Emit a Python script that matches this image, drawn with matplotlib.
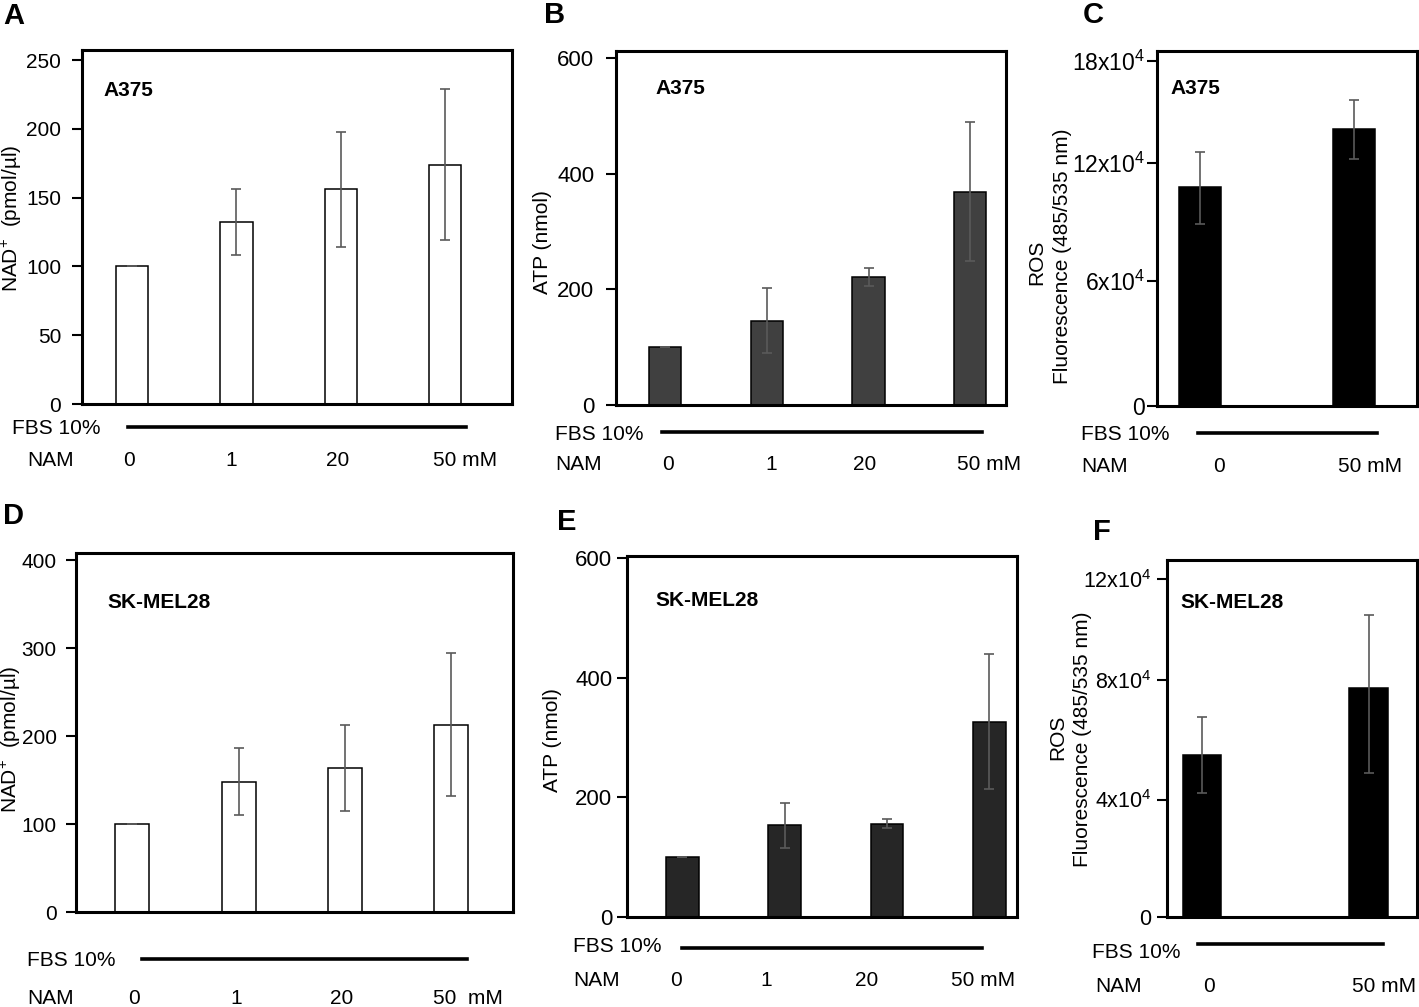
import numpy as np
import matplotlib
matplotlib.use("Agg")
import matplotlib.pyplot as plt
from matplotlib.lines import Line2D

plt.rcParams["font.family"] = ["Liberation Sans", "DejaVu Sans"]
plt.rcParams["mathtext.fontset"] = "custom"
plt.rcParams["mathtext.rm"] = "Liberation Sans"
plt.rcParams["font.size"] = 15

# --- data ---
nam_4 = ["0", "1", "20", "50 mM"]
nam_2 = ["0", "50 mM"]

nad_a375 = [100, 132, 156, 174]
nad_a375_err = [0, 24, 42, 55]
atp_a375 = [100, 146, 221, 369]
atp_a375_err = [0, 56, 16, 120]
ros_a375 = [10.8e4, 14.0e4]
ros_a375_err = [1.87e4, 1.74e4]

nad_skmel = [100, 148, 164, 213]
nad_skmel_err = [0, 38, 49, 81]
atp_skmel = [100, 153, 156, 326]
atp_skmel_err = [0, 38, 7.5, 113]
ros_skmel = [5.5e4, 7.75e4]
ros_skmel_err = [1.28e4, 2.85e4]

nad_ticks_a = [0, 50, 100, 150, 200, 250]
nad_ticks_d = [0, 100, 200, 300, 400]
atp_ticks = [0, 200, 400, 600]
ros_ticks_c = [0, 6e4, 12e4, 18e4]
ros_labels_c = ["0", r"$\mathregular{6x10^{4}}$", r"$\mathregular{12x10^{4}}$", r"$\mathregular{18x10^{4}}$"]
ros_ticks_f = [0, 4e4, 8e4, 12e4]
ros_labels_f = ["0", r"$\mathregular{4x10^{4}}$", r"$\mathregular{8x10^{4}}$", r"$\mathregular{12x10^{4}}$"]

W, H = 1419, 1007
fig = plt.figure(figsize=(W / 100, H / 100), dpi=100)


def fx(x):
    return x / W


def fy(y):
    return 1 - y / H


def add_ax(left, top, right, bottom):
    return fig.add_axes([fx(left), fy(bottom), (right - left) / W, (bottom - top) / H])


def style(ax, ticks, labels, pad, size):
    for s in ax.spines.values():
        s.set_linewidth(2.2)
    ax.set_xticks([])
    ax.set_yticks(ticks)
    ax.set_yticklabels(labels if labels else [str(t) for t in ticks])
    ax.yaxis.set_minor_locator(matplotlib.ticker.NullLocator())
    ax.tick_params(axis="y", direction="out", length=7, width=1.5, pad=pad, labelsize=size)


def bars(ax, vals, errs, width, face):
    x = np.arange(len(vals))
    ax.bar(x, vals, width=width, color=face, edgecolor="black", linewidth=1.1, zorder=2)
    ax.errorbar(x, vals, yerr=errs, fmt="none", ecolor="#5a5a5a", elinewidth=1.2,
                capsize=3.5, capthick=1.2, zorder=3)


def uneven_scale(ax, tick_vals, tick_px, top_px):
    # the ROS axes have unevenly spaced ticks in the original
    v = np.asarray(tick_vals, float)
    h = np.asarray(tick_px, float)
    v = np.r_[v[0] - (v[1] - v[0]) * 50, v, v[-1] + (v[-1] - v[-2]) * 50]
    h = np.r_[h[0] - (h[1] - h[0]) * 50, h, h[-1] + (h[-1] - h[-2]) * 50]
    ax.set_yscale("function", functions=(lambda a: np.interp(a, v, h),
                                         lambda b: np.interp(b, h, v)))
    ax.set_ylim(0, np.interp(top_px, h, v))


def text(x, y, s, **kw):
    kw.setdefault("va", "center")
    kw.setdefault("fontsize", 15)
    fig.text(fx(x), fy(y), s, **kw)


def hline(x0, x1, y):
    fig.add_artist(Line2D([fx(x0), fx(x1)], [fy(y), fy(y)], color="black", lw=2.6,
                          transform=fig.transFigure))


def condition_rows(fbs_x, fbs_y, line, nam_x, nam_y, labels, label_x):
    text(fbs_x, fbs_y, "FBS 10%")
    hline(line[0], line[1], line[2])
    text(nam_x, nam_y, "NAM")
    for lab, lx in zip(labels, label_x):
        if "mM" in lab:
            text(lx, nam_y, lab, ha="left")
        else:
            text(lx, nam_y, lab, ha="center")


# ---- A ----
ax = add_ax(82, 50, 512, 404)
bars(ax, nad_a375, nad_a375_err, 0.31, "white")
ax.set_xlim(-0.48, 3.64)
ax.set_ylim(0, 257.3)
style(ax, nad_ticks_a, None, 8, 15)
text(3, 16, "A", fontsize=21, fontweight="bold")
text(103, 91, "A375", fontweight="bold")
text(12, 218, r"NAD$^{+}$  (pmol/µl)", rotation=90, ha="center")
condition_rows(12, 428, (128, 466, 427), 27, 461, nam_4, [129, 231, 338, 433])

# ---- B ----
ax = add_ax(616, 51, 1006, 405)
bars(ax, atp_a375, atp_a375_err, 0.315, "#404040")
ax.set_xlim(-0.48, 3.35)
ax.set_ylim(0, 612)
style(ax, atp_ticks, None, 8.5, 16)
text(544, 15, "B", fontsize=21, fontweight="bold")
text(655, 88, "A375", fontweight="bold")
text(542, 242, "ATP (nmol)", rotation=90, ha="center")
condition_rows(555, 434, (662, 982, 432), 555, 464, nam_4, [668, 771, 865, 957])

# ---- C ----
ax = add_ax(1157, 51, 1417, 405.7)
bars(ax, ros_a375, ros_a375_err, 0.273, "black")
ax.set_xlim(-0.28, 1.41)
uneven_scale(ax, ros_ticks_c, [0, 124.7, 242.4, 344.7], 354.7)
style(ax, ros_ticks_c, ros_labels_c, 1.4, 16.5)
text(1083, 15, "C", fontsize=21, fontweight="bold")
text(1170, 88, "A375", fontweight="bold")
text(1037, 262, "ROS", rotation=90, ha="center")
text(1062, 256, "Fluorescence (485/535 nm)", rotation=90, ha="center")
condition_rows(1081, 435, (1198, 1377, 433), 1081, 466, nam_2, [1219, 1338])

# ---- D ----
ax = add_ax(76, 553, 513, 912)
bars(ax, nad_skmel, nad_skmel_err, 0.32, "white")
ax.set_xlim(-0.53, 3.58)
ax.set_ylim(0, 408)
style(ax, nad_ticks_d, None, 7, 15)
text(3, 516, "D", fontsize=21, fontweight="bold")
text(107, 603, "SK-MEL28", fontweight="bold")
text(11, 739, r"NAD$^{+}$  (pmol/µl)", rotation=90, ha="center")
condition_rows(27, 961, (142, 467, 959), 27, 999, ["0", "1", "20", "50  mM"], [134, 236, 342, 433])

# ---- E ----
ax = add_ax(627, 556, 1017, 917)
bars(ax, atp_skmel, atp_skmel_err, 0.317, "#262626")
ax.set_xlim(-0.54, 3.27)
ax.set_ylim(0, 603)
style(ax, atp_ticks, None, 3.6, 16)
text(557, 522, "E", fontsize=21, fontweight="bold")
text(655, 601, "SK-MEL28", fontweight="bold")
text(553, 740, "ATP (nmol)", rotation=90, ha="center")
condition_rows(573, 946, (682, 982, 948), 573, 981, nam_4, [676, 766, 867, 951])

# ---- F ----
ax = add_ax(1167, 560, 1417, 917)
bars(ax, ros_skmel, ros_skmel_err, 0.233, "black")
ax.set_xlim(-0.21, 1.29)
uneven_scale(ax, ros_ticks_f, [0, 117.4, 236.4, 337.7], 356.7)
style(ax, ros_ticks_f, ros_labels_f, 4.3, 15.5)
text(1093, 532, "F", fontsize=21, fontweight="bold")
text(1180, 603, "SK-MEL28", fontweight="bold")
text(1058, 737, "ROS", rotation=90, ha="center")
text(1083, 739, "Fluorescence (485/535 nm)", rotation=90, ha="center")
condition_rows(1092, 952, (1198, 1383, 944), 1095, 986, nam_2, [1209, 1352])

fig.savefig("out.png", dpi=100)
